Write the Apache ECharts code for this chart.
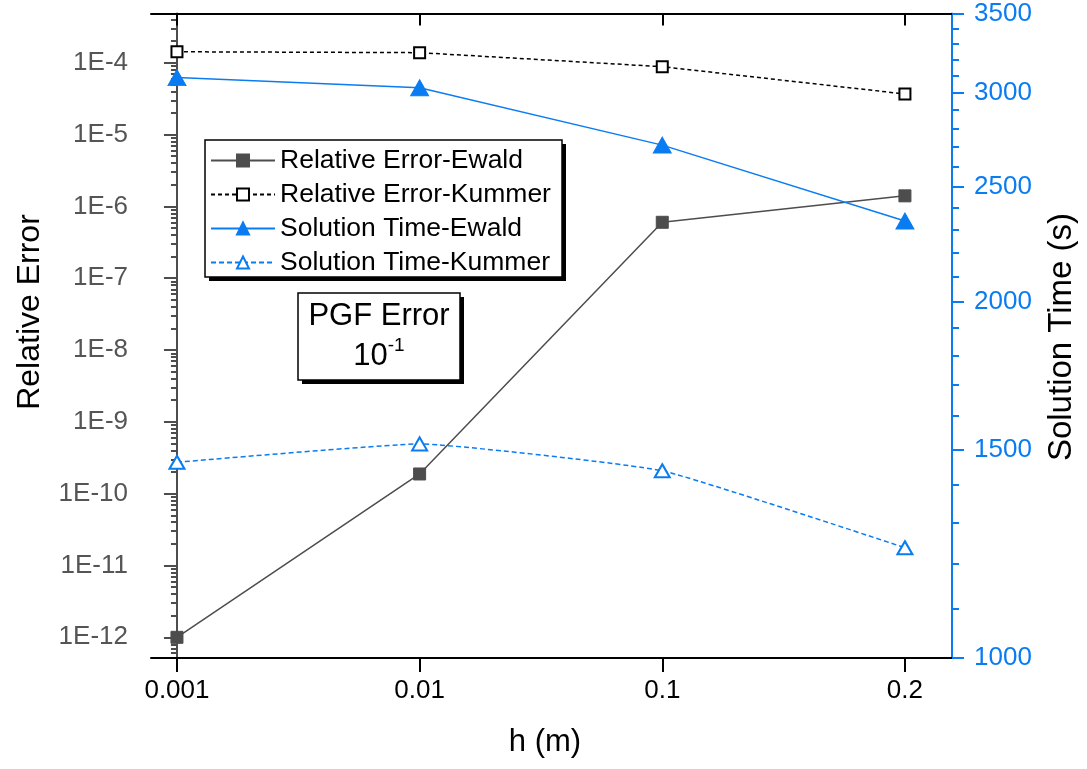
<!DOCTYPE html>
<html>
<head>
<meta charset="utf-8">
<script src="https://cdn.jsdelivr.net/npm/echarts@6/dist/echarts.min.js"></script>
<style>
  html, body { margin: 0; padding: 0; background: #fff; }
  #chart { width: 1087px; height: 769px; }
</style>
</head>
<body>
<div id="chart"></div>
<script>
// data
var hLabels = ['0.001', '0.01', '0.1', '0.2'];
var errEwald = [1e-12, 1.88e-10, 6.0e-7, 1.40e-6];
var errKummer = [1.42e-4, 1.38e-4, 8.8e-5, 3.67e-5];
var timeEwald = [3090, 3030, 2710, 2338];
var timeKummer = [1463, 1516, 1439, 1239];
var errTickExp = [-12, -11, -10, -9, -8, -7, -6, -5, -4];
var timeTicks = [1000, 1500, 2000, 2500, 3000, 3500];

var FONT = 'Liberation Sans, Arial, sans-serif';
var BLUE = '#0a7cf2';
var GRAY = '#4d4d4d';

var errMin = -12.288, errMax = -3.315;
var timeMin = 3, timeMax = Math.log10(3500);
var xMin = -0.107, xMax = 3.194;

function logPts(arr) {
    return arr.map(function (v, i) { return [i, Math.log10(v)]; });
}

// minor ticks: 2..9 within each decade (left), every 100 s (right)
var errMinor = [];
for (var n = -13; n <= -4; n++) {
    for (var k = 2; k <= 9; k++) {
        var v = n + Math.log10(k);
        if (v > errMin && v < errMax) errMinor.push(v);
    }
}
var timeMinor = [];
for (var t = 1100; t < 3500; t += 100) {
    if (t % 500 !== 0) timeMinor.push(Math.log10(t));
}
var xPos = hLabels.map(function (d, i) { return i; });

// boxes with a hard black shadow
function shadowBox(x, y, w, h) {
    return [{
        type: 'rect', z: 1,
        shape: { x: x + 4, y: y + 4, width: w, height: h },
        style: { fill: '#000' }
    }, {
        type: 'rect', z: 1,
        shape: { x: x, y: y, width: w, height: h },
        style: { fill: '#fff', stroke: '#000', lineWidth: 1.5 }
    }];
}

var option = {
    backgroundColor: '#fff',
    animation: false,
    grid: { left: 151, right: 135, top: 13.5, bottom: 111 },
    legend: {
        orient: 'vertical',
        left: 205,
        top: 140,
        z: 20,
        padding: [7, 10, 8, 5],
        itemWidth: 64,
        itemHeight: 15,
        itemGap: 7,
        textStyle: { fontFamily: FONT, fontSize: 26.5, color: '#000', lineHeight: 26, padding: [0, 0, 0, 0] },
        data: ['Relative Error-Ewald', 'Relative Error-Kummer', 'Solution Time-Ewald', 'Solution Time-Kummer']
    },
    xAxis: [{
        type: 'value',
        min: xMin,
        max: xMax,
        position: 'bottom',
        splitLine: { show: false },
        axisLine: { lineStyle: { color: '#000', width: 2 } },
        axisTick: { customValues: xPos, length: 14, lineStyle: { color: '#000', width: 2 } },
        axisLabel: {
            customValues: xPos,
            margin: 20,
            fontFamily: FONT, fontSize: 26, color: '#000',
            formatter: function (v) { return hLabels[Math.round(v)]; }
        }
    }, {
        type: 'value',
        min: xMin,
        max: xMax,
        position: 'top',
        splitLine: { show: false },
        axisLine: { lineStyle: { color: '#000', width: 2 } },
        axisTick: { inside: true, customValues: xPos, length: 12, lineStyle: { color: '#000', width: 2 } },
        axisLabel: { show: false }
    }],
    yAxis: [{
        type: 'value',
        min: errMin,
        max: errMax,
        position: 'left',
        splitLine: { show: false },
        axisLine: { lineStyle: { color: GRAY, width: 2 } },
        axisTick: { customValues: errTickExp, length: 13, lineStyle: { color: GRAY, width: 2 } },
        axisLabel: {
            customValues: errTickExp,
            margin: 23,
            fontFamily: FONT, fontSize: 26, color: '#555',
            formatter: function (v) { return '1E' + Math.round(v); }
        }
    }, {
        type: 'value',
        min: errMin,
        max: errMax,
        position: 'left',
        splitLine: { show: false },
        axisLine: { show: false },
        axisTick: { customValues: errMinor, length: 6, lineStyle: { color: GRAY, width: 2 } },
        axisLabel: { show: false }
    }, {
        type: 'value',
        min: timeMin,
        max: timeMax,
        position: 'right',
        splitLine: { show: false },
        axisLine: { lineStyle: { color: BLUE, width: 2 } },
        axisTick: {
            customValues: timeTicks.map(function (v) { return Math.log10(v); }),
            length: 12, lineStyle: { color: BLUE, width: 2 }
        },
        axisLabel: {
            customValues: timeTicks.map(function (v) { return Math.log10(v); }),
            margin: 22,
            fontFamily: FONT, fontSize: 26, color: BLUE,
            formatter: function (v) { return String(Math.round(Math.pow(10, v))); }
        }
    }, {
        type: 'value',
        min: timeMin,
        max: timeMax,
        position: 'right',
        splitLine: { show: false },
        axisLine: { show: false },
        axisTick: { customValues: timeMinor, length: 7, lineStyle: { color: BLUE, width: 2 } },
        axisLabel: { show: false }
    }],
    series: [{
        name: 'Relative Error-Ewald',
        type: 'line',
        yAxisIndex: 0,
        data: logPts(errEwald),
        symbol: 'rect',
        symbolSize: 12,
        lineStyle: { color: GRAY, width: 1.5 },
        itemStyle: { color: GRAY, borderColor: GRAY, borderWidth: 1 },
        z: 3
    }, {
        name: 'Relative Error-Kummer',
        type: 'line',
        yAxisIndex: 0,
        data: logPts(errKummer),
        symbol: 'rect',
        symbolSize: 11,
        lineStyle: { color: '#000', width: 1.5, type: [4, 3] },
        itemStyle: { color: '#fff', borderColor: '#000', borderWidth: 2 },
        z: 3
    }, {
        name: 'Solution Time-Ewald',
        type: 'line',
        yAxisIndex: 2,
        data: logPts(timeEwald),
        symbol: 'triangle',
        symbolSize: [18, 16],
        lineStyle: { color: BLUE, width: 1.5 },
        itemStyle: { color: BLUE, borderColor: BLUE, borderWidth: 1 },
        z: 3
    }, {
        name: 'Solution Time-Kummer',
        type: 'line',
        yAxisIndex: 2,
        data: logPts(timeKummer),
        symbol: 'triangle',
        symbolSize: [15, 13],
        smooth: 0.12,
        lineStyle: { color: BLUE, width: 1.5, type: [5, 3] },
        itemStyle: { color: '#fff', borderColor: BLUE, borderWidth: 2 },
        z: 3
    }],
    graphic: [{
        type: 'text',
        x: 30, y: 312,
        rotation: Math.PI / 2,
        style: { text: 'Relative Error', fontFamily: FONT, fontSize: 32, fill: '#000', align: 'center', verticalAlign: 'middle' }
    }, {
        type: 'text',
        x: 1062, y: 337,
        rotation: Math.PI / 2,
        style: { text: 'Solution Time (s)', fontFamily: FONT, fontSize: 33, fill: '#000', align: 'center', verticalAlign: 'middle' }
    }, {
        type: 'text',
        x: 545, y: 742,
        style: { text: 'h (m)', fontFamily: FONT, fontSize: 31, fill: '#000', align: 'center', verticalAlign: 'middle' }
    }].concat(shadowBox(205, 140, 357, 137), shadowBox(298, 293, 162, 87), [{
        type: 'text',
        x: 379, y: 316,
        style: { text: 'PGF Error', fontFamily: FONT, fontSize: 31, fill: '#000', align: 'center', verticalAlign: 'middle' },
        z: 11
    }, {
        type: 'text',
        x: 379, y: 356,
        style: {
            text: '{b|10}{s|-1}',
            align: 'center', verticalAlign: 'middle',
            rich: {
                b: { fontFamily: FONT, fontSize: 31, fill: '#000' },
                s: { fontFamily: FONT, fontSize: 19, fill: '#000', padding: [0, 0, 20, 0] }
            }
        },
        z: 11
    }])
};

var chart = echarts.init(document.getElementById('chart'));
chart.setOption(option);
</script>
</body>
</html>
